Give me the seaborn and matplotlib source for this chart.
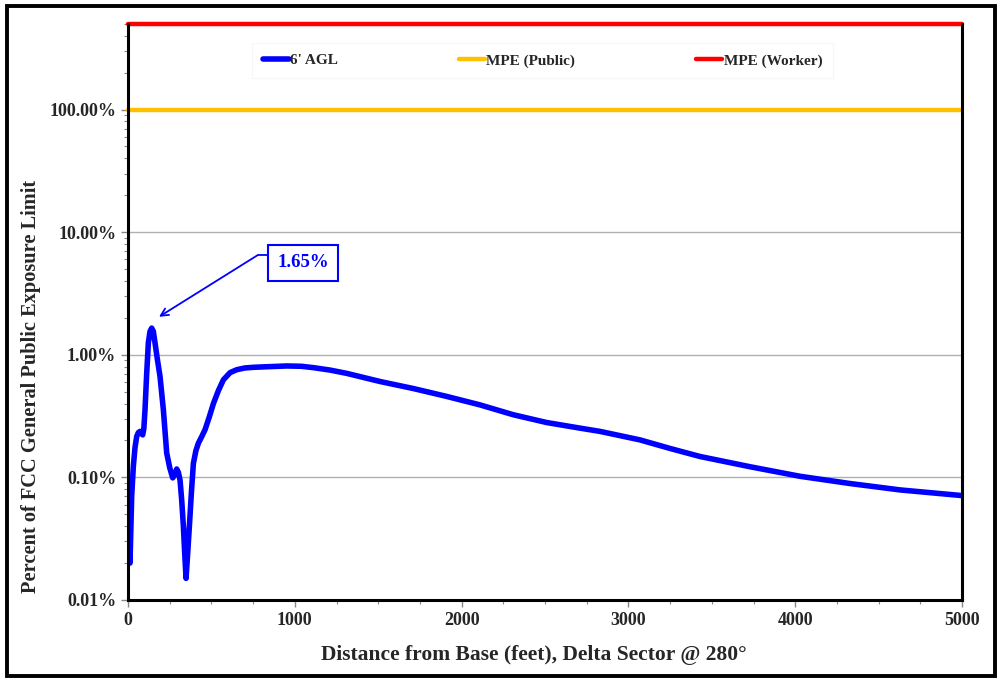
# Power density vs distance, percent of FCC public MPE, log scale

import numpy as np
import pandas as pd
import matplotlib
matplotlib.use('Agg')
import matplotlib.pyplot as plt
from matplotlib.ticker import FixedLocator, MultipleLocator, FuncFormatter, LogLocator, NullFormatter
from matplotlib.patches import Rectangle
import seaborn as sb

# Data (distance in feet, exposure as fraction of public MPE)
distance_ft = [2, 12, 22, 32, 42, 52, 62, 72, 80, 88, 95, 102, 112, 122, 132, 142, 152, 162,
               177, 192, 212, 232, 250, 268, 280, 292, 302, 312, 322, 332, 340, 348, 356, 368,
               380, 392, 407, 422, 442, 462, 487, 512, 542, 572, 612, 652, 700, 752, 850, 952,
               1040, 1111, 1211, 1311, 1511, 1711, 1911, 2110, 2310, 2510, 2710, 2830, 3070, 3250, 3429,
               3730, 4029, 4330, 4628, 5000]
exposure = [0.00045, 0.00020, 0.00070, 0.00123, 0.00175, 0.00215, 0.00232, 0.00237, 0.00228,
            0.00222, 0.00250, 0.00356, 0.00700, 0.01250, 0.01550, 0.01650, 0.01550, 0.01250,
            0.00900, 0.00665, 0.00356, 0.00158, 0.00120, 0.00099, 0.00105, 0.00117, 0.00110,
            0.00095, 0.00065, 0.00040, 0.00024, 0.00015, 0.00022, 0.00040,
            0.00075, 0.00130, 0.00165, 0.00190, 0.00215, 0.00245, 0.00310, 0.00400, 0.00510,
            0.00625, 0.00715, 0.00755, 0.00780, 0.00790, 0.00800, 0.00810,
            0.00805, 0.00785, 0.00750, 0.00705, 0.00605, 0.00530, 0.00457, 0.00390, 0.00324, 0.00280, 0.00252,
            0.00237, 0.00202, 0.00172, 0.00148, 0.00122, 0.00102, 0.00089, 0.00079, 0.00071]
mpe_public = 1.0
mpe_worker = 5.0
peak_label = "1.65%"
df = pd.DataFrame({"distance": distance_ft, "exposure": exposure})

sb.set_style("ticks")
plt.rcParams['font.family'] = ['Liberation Serif', 'DejaVu Serif']
plt.rcParams['font.weight'] = 'bold'

fig = plt.figure(figsize=(10, 6.81), dpi=100)
ax = fig.add_axes([0.128, 0.119, 0.834, 0.846])

sb.lineplot(data=df, x="distance", y="exposure", color="#0000FF", linewidth=4.0,
            label="6' AGL", ax=ax)
ax.axhline(mpe_public, color="#FFC000", linewidth=3.2, label="MPE (Public)", clip_on=False)
ax.axhline(mpe_worker, color="#FF0000", linewidth=3.2, label="MPE (Worker)", clip_on=False)

ax.set_yscale("log")
ax.set_ylim(0.0001, 5.0)
ax.set_xlim(0, 5000)

# Ticks
ax.xaxis.set_major_locator(MultipleLocator(1000))
ax.xaxis.set_minor_locator(MultipleLocator(250))
ax.yaxis.set_major_locator(FixedLocator([0.0001, 0.001, 0.01, 0.1, 1.0]))
ax.yaxis.set_minor_locator(LogLocator(base=10, subs=np.arange(2, 10), numticks=20))
ax.yaxis.set_minor_formatter(NullFormatter())
ax.yaxis.set_major_formatter(FuncFormatter(lambda v, p: f"{v * 100:.2f}%"))
ax.tick_params(axis="both", which="major", direction="out", length=5, width=1,
               labelsize=13, color="#888888")
ax.tick_params(axis="both", which="minor", direction="out", length=3, width=0.8, color="#888888")
for lab in ax.get_xticklabels() + ax.get_yticklabels():
    lab.set_fontweight("bold")

ax.yaxis.grid(True, which="major", color="#b0b0b0", linewidth=1)
ax.set_axisbelow(True)

for side in ["left", "bottom", "right"]:
    ax.spines[side].set_visible(True)
    ax.spines[side].set_color("black")
    ax.spines[side].set_linewidth(2.2)
ax.spines["top"].set_visible(False)

ax.set_xlabel("Distance from Base (feet), Delta Sector @ 280°", fontsize=15.5,
              fontweight="bold", labelpad=12, x=0.487)
ax.set_ylabel("Percent of FCC General Public Exposure Limit", fontsize=14.7,
              fontweight="bold", labelpad=6, y=0.37)

# Legend across the top
leg = ax.legend(loc="center", bbox_to_anchor=(0.497, 0.936), ncol=3, frameon=True,
                fancybox=False, edgecolor="#f4f4f4", handlelength=1.7, handletextpad=0.1,
                columnspacing=7.9, borderpad=0.7, prop={"weight": "bold", "size": 11})
leg.get_frame().set_linewidth(0.8)

# Peak annotation
ax.annotate(peak_label, xy=(186, 0.0204), xytext=(1049, 0.0564), textcoords="data",
            color="#0000FF", fontsize=13.5, fontweight="bold", ha="center", va="center",
            bbox=dict(boxstyle="square,pad=0.5", facecolor="white", edgecolor="#0000FF", linewidth=1.5),
            arrowprops=dict(arrowstyle="->", color="#0000FF", linewidth=1.3,
                            relpos=(0.0, 0.95), shrinkA=0, shrinkB=0,
                            connectionstyle="angle,angleA=0,angleB=32,rad=0"))

# Outer frame around the figure
fig.patches.append(Rectangle((0.007, 0.0075), 0.988, 0.9835, transform=fig.transFigure,
                             fill=False, edgecolor="black", linewidth=2.8))

fig.savefig("out.png", dpi=100)
